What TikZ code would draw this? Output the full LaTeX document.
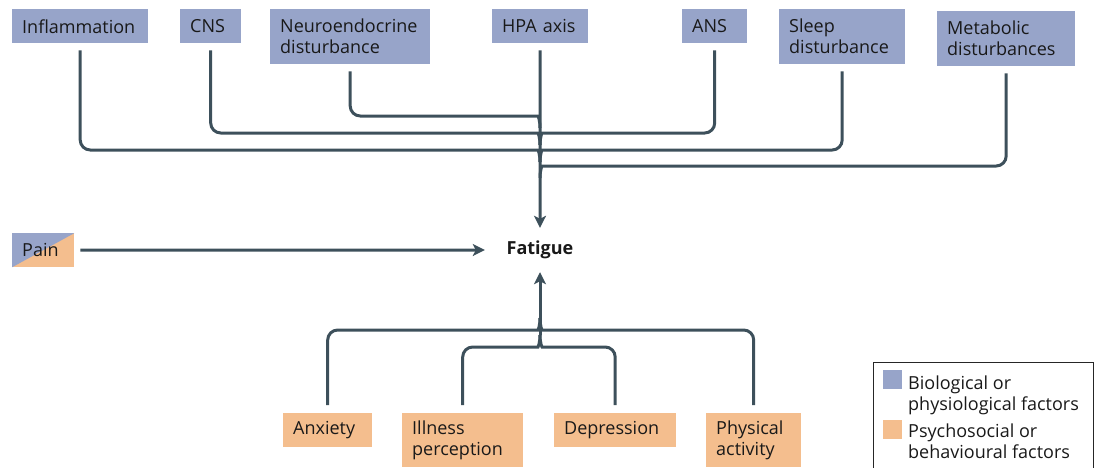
\documentclass[tikz,border=0pt]{standalone}
\usepackage{fontspec}
\setmainfont{Open Sans}
\usetikzlibrary{arrows.meta}
\definecolor{biocol}{RGB}{151,164,201}
\definecolor{psycol}{RGB}{244,190,142}
\definecolor{linkcol}{RGB}{61,80,91}
\tikzset{
  factor/.style={anchor=north west, inner xsep=10pt, inner ysep=0pt, align=left,
    text=black!90, font=\fontsize{18}{21}\selectfont},
  bio/.style={factor, fill=biocol},
  psy/.style={factor, fill=psycol},
  link/.style={draw=linkcol, line width=3pt},
  arrowlink/.style={link, -{Stealth[length=12pt,width=12pt,inset=3pt]}},
}

\begin{document}
\begin{tikzpicture}[x=1pt,y=-1pt]
\useasboundingbox (0,0) rectangle (1097,467);
% biological factors:
\node[bio, text width=116pt, minimum height=34pt] (infl) at (12,9) {Inflammation};
\node[bio, text width=41pt, minimum height=34pt] (cns) at (180,9) {CNS};
\node[bio, text width=140pt, minimum height=55pt] (neuro) at (270,9) {Neuroendocrine\\disturbance};
\node[bio, text width=76pt, minimum height=34pt] (hpa) at (492,9) {HPA axis};
\node[bio, text width=45pt, minimum height=34pt] (ans) at (682,9) {ANS};
\node[bio, text width=106pt, minimum height=55pt] (sleep) at (779,9) {Sleep\\disturbance};
\node[bio, text width=118pt, minimum height=55pt] (metab) at (937,11) {Metabolic\\disturbances};
% mixed factor:
\node[psy, text width=42pt, minimum height=34pt,
  path picture={\fill[biocol] (path picture bounding box.south west) -- (path picture bounding box.north west)
    -- (path picture bounding box.north east) -- cycle;}] (pain) at (12,233) {Pain};
% psychosocial factors:
\node[psy, text width=69pt, minimum height=34pt] (anx) at (283,413) {Anxiety};
\node[psy, text width=101pt, minimum height=54pt] (illness) at (402,413) {Illness\\perception};
\node[psy, text width=102pt, minimum height=34pt] (depr) at (554,413) {Depression};
\node[psy, text width=75pt, minimum height=54pt] (phys) at (706,413) {Physical\\activity};
% outcome:
\node[font=\fontsize{18}{21}\selectfont\bfseries, text=black!90, minimum width=110pt,
  minimum height=44pt, inner sep=0pt] (fatigue) at (540,250) {Fatigue};
% junctions on the trunk:
\coordinate (jA) at (540,128);
\coordinate (jB) at (540,145);
\coordinate (jC) at (540,162);
\coordinate (jD) at (540,178);
\coordinate (jE) at (540,318);
\coordinate (jF) at (540,335);
% connectors:
\foreach \src/\j in {neuro/jA, cns/jB, infl/jC}
  \draw[link, rounded corners=10pt] ([yshift=-7pt]\src.south) |- ([shift={(-12,-12)}]\j)
    [sharp corners] .. controls ([shift={(-2,-12)}]\j) and ([shift={(0,-8)}]\j) .. (\j);
\foreach \src/\j in {ans/jB, sleep/jC, metab/jD}
  \draw[link, rounded corners=10pt] ([yshift=-7pt]\src.south) |- ([shift={(12,-12)}]\j)
    [sharp corners] .. controls ([shift={(2,-12)}]\j) and ([shift={(0,-8)}]\j) .. (\j);
\foreach \src/\j in {anx/jE, illness/jF}
  \draw[link, rounded corners=10pt] ([yshift=8pt]\src.north) |- ([shift={(-12,12)}]\j)
    [sharp corners] .. controls ([shift={(-2,12)}]\j) and ([shift={(0,8)}]\j) .. (\j);
\foreach \src/\j in {phys/jE, depr/jF}
  \draw[link, rounded corners=10pt] ([yshift=8pt]\src.north) |- ([shift={(12,12)}]\j)
    [sharp corners] .. controls ([shift={(2,12)}]\j) and ([shift={(0,8)}]\j) .. (\j);
\draw[arrowlink] ([yshift=-7pt]hpa.south) -- (fatigue.north);
\draw[arrowlink] (jF) -- (fatigue.south);
\draw[arrowlink, shorten <=6pt] (pain.east) -- (fatigue.west);
% legend:
\draw[draw=black!85, line width=1pt] (873,468) |- (1093,362) -- (1093,468);
\node[fill=biocol, minimum size=19pt, inner sep=0pt, anchor=north west] (bioswatch) at (883,370) {};
\node[fill=psycol, minimum size=19pt, inner sep=0pt, anchor=north west] (psyswatch) at (883,420) {};
\node[factor, inner xsep=0pt] (biotext) at (908,376) {Biological or\\physiological factors};
\node[factor, inner xsep=0pt] (psytext) at (908,424) {Psychosocial or\\behavioural factors};
\end{tikzpicture}
\end{document}
